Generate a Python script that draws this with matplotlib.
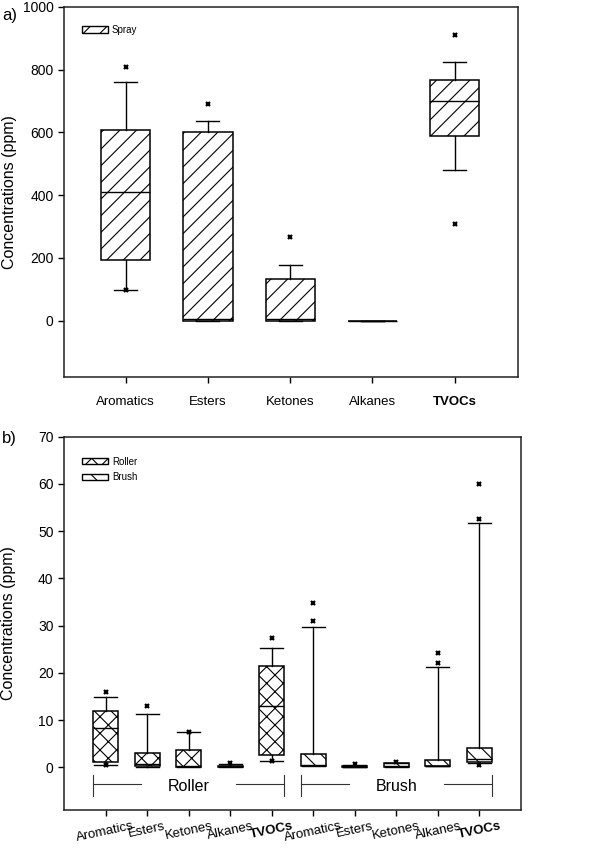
import matplotlib
matplotlib.use('Agg')
import matplotlib.pyplot as plt
from matplotlib.patches import Patch

plt.rcParams['font.family'] = ['Liberation Sans', 'DejaVu Sans']
plt.rcParams['hatch.linewidth'] = 0.8

# panel a) spray
categories = ['Aromatics', 'Esters', 'Ketones', 'Alkanes', 'TVOCs']
spray_q1 = [194, 0, 0, 0, 587]
spray_med = [410, 5, 5, 0, 701]
spray_q3 = [607, 600, 132, 0, 768]
spray_whislo = [98, 0, 0, 0, 479]
spray_whishi = [762, 638, 177, 0, 824]
spray_fliers = [[808, 98], [691], [268], [], [911, 308]]

# panel b) roller / brush
roller_q1 = [1.2, 0.25, 0.0, 0.2, 2.7]
roller_med = [8.4, 0.7, 0.35, 0.25, 13.1]
roller_q3 = [12.0, 3.1, 3.6, 0.35, 21.5]
roller_whislo = [0.5, 0.2, 0.0, 0.2, 1.35]
roller_whishi = [15.0, 11.3, 7.5, 0.8, 25.2]
roller_fliers = [[15.9, 0.5], [12.9], [7.6], [1.0], [27.5, 1.3]]

brush_q1 = [0.3, 0.05, 0.0, 0.3, 1.2]
brush_med = [0.6, 0.15, 0.3, 0.35, 1.8]
brush_q3 = [2.8, 0.3, 0.85, 1.5, 4.2]
brush_whislo = [0.3, 0.05, 0.0, 0.3, 0.9]
brush_whishi = [29.7, 0.5, 0.9, 21.2, 51.8]
brush_fliers = [[31.0, 34.8], [0.8], [1.2], [22.0, 24.2], [52.6, 59.9, 0.6]]


def make_stats(q1, med, q3, lo, hi, fl):
    return [dict(q1=a, med=m, q3=b, whislo=w1, whishi=w2, fliers=f)
            for a, m, b, w1, w2, f in zip(q1, med, q3, lo, hi, fl)]


def draw_boxes(ax, stats, positions, hatch, capw):
    ax.bxp(stats, positions=positions, widths=0.6, capwidths=capw,
           patch_artist=True, showfliers=True,
           boxprops=dict(facecolor='white', edgecolor='black', hatch=hatch, linewidth=1.1),
           medianprops=dict(color='black', linewidth=1),
           whiskerprops=dict(color='black', linewidth=1),
           capprops=dict(color='black', linewidth=1),
           flierprops=dict(marker='x', markersize=3.5, markeredgewidth=1.6,
                           markeredgecolor='black', linestyle='none'))


def style_axes(ax):
    for s in ax.spines.values():
        s.set_color('#222222')
        s.set_linewidth(1.1)
    ax.tick_params(direction='out', length=4, width=1, labelsize=10,
                   top=False, right=False)
    ax.set_ylabel('Concentrations (ppm)', fontsize=11.5)
    ax.yaxis.set_label_coords(-0.104, 0.5)


fig = plt.figure(figsize=(6.12, 8.52), dpi=100)

# ---- a) ----
ax1 = fig.add_axes([0.1046, 0.5575, 0.7418, 0.4343])
pos_a = list(range(1, len(categories) + 1))
draw_boxes(ax1, make_stats(spray_q1, spray_med, spray_q3, spray_whislo, spray_whishi, spray_fliers),
           pos_a, '//', 0.28)
ax1.set_xlim(0.25, 5.77)
ax1.set_ylim(-180, 1000)
ax1.set_yticks([0, 200, 400, 600, 800, 1000])
ax1.set_xticks(pos_a)
style_axes(ax1)
ax1.set_xticklabels(categories, fontsize=9.5)
ax1.get_xticklabels()[-1].set_fontweight('bold')
ax1.tick_params(axis='x', pad=10)
ax1.legend(handles=[Patch(facecolor='white', edgecolor='black', hatch='//', label='Spray')],
           loc='upper left', bbox_to_anchor=(0.02, 0.975), frameon=False, fontsize=7,
           handlelength=2.7, handleheight=0.6, handletextpad=0.4)
fig.text(0.003, 0.977, 'a)', fontsize=12)

# ---- b) ----
ax2 = fig.add_axes([0.1046, 0.0493, 0.7467, 0.4382])
n = len(categories)
pos_r = list(range(1, n + 1))
pos_b = list(range(n + 1, 2 * n + 1))
draw_boxes(ax2, make_stats(roller_q1, roller_med, roller_q3, roller_whislo, roller_whishi, roller_fliers),
           pos_r, 'xx', 0.55)
draw_boxes(ax2, make_stats(brush_q1, brush_med, brush_q3, brush_whislo, brush_whishi, brush_fliers),
           pos_b, '\\\\', 0.55)
ax2.set_xlim(0, 2 * n + 1)
ax2.set_ylim(-9, 70)
ax2.set_yticks(range(0, 71, 10))
ax2.set_xticks(pos_r + pos_b)
style_axes(ax2)
ax2.set_xticklabels(categories + categories, fontsize=9.5, rotation=12, ha='center')
for i in (n - 1, 2 * n - 1):
    ax2.get_xticklabels()[i].set_fontweight('bold')

# group brackets
for pos, name in ((pos_r, 'Roller'), (pos_b, 'Brush')):
    x0, x1 = pos[0] - 0.3, pos[-1] + 0.3
    xm = (pos[0] + pos[-1]) / 2
    ax2.plot([x0, xm - 1.15], [-3.6, -3.6], color='#333333', lw=0.8)
    ax2.plot([xm + 1.15, x1], [-3.6, -3.6], color='#333333', lw=0.8)
    ax2.plot([x0, x0], [-1.6, -6.0], color='#333333', lw=0.8)
    ax2.plot([x1, x1], [-1.6, -6.0], color='#333333', lw=0.8)
    ax2.text(xm, -4.0, name, ha='center', va='center', fontsize=11.5)

ax2.legend(handles=[Patch(facecolor='white', edgecolor='black', hatch='xx', label='Roller'),
                    Patch(facecolor='white', edgecolor='black', hatch='\\\\', label='Brush')],
           loc='upper left', bbox_to_anchor=(0.02, 0.97), frameon=False, fontsize=7,
           handlelength=2.7, handleheight=0.6, handletextpad=0.4, labelspacing=0.6)
fig.text(0.003, 0.48, 'b)', fontsize=12)

fig.savefig('out.png', dpi=100)
